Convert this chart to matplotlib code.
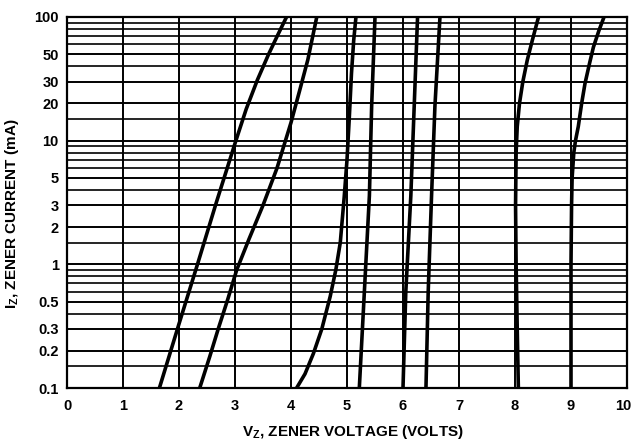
import matplotlib
matplotlib.use("Agg")
import matplotlib.pyplot as plt
import matplotlib.transforms as mtransforms
from matplotlib.ticker import FixedLocator, NullFormatter

plt.rcParams['font.family'] = ['Liberation Sans', 'DejaVu Sans']
plt.rcParams['font.weight'] = 'bold'
plt.rcParams['axes.labelweight'] = 'bold'
plt.rcParams['mathtext.fontset'] = 'custom'
plt.rcParams['mathtext.rm'] = 'Liberation Sans:bold'
plt.rcParams['mathtext.it'] = 'Liberation Sans:bold'

# zener curves: voltage (V) vs current (mA)
v_a = [1.65, 2.00, 2.33, 2.67, 3.00, 3.20, 3.40, 3.60, 3.76, 3.92]
i_a = [0.1, 0.33, 1.0, 3.2, 9.5, 18, 31, 50, 71, 100]

v_b = [2.37, 2.55, 2.70, 2.87, 3.03, 3.25, 3.50, 3.75, 4.00, 4.15, 4.30, 4.46]
i_b = [0.1, 0.18, 0.30, 0.52, 0.9, 1.6, 3.0, 6.0, 14, 25, 45, 100]

v_c = [4.10, 4.25, 4.40, 4.55, 4.70, 4.80, 4.88, 4.95, 5.00, 5.04, 5.08, 5.12, 5.16]
i_c = [0.1, 0.13, 0.19, 0.30, 0.55, 0.9, 1.5, 3.5, 7, 15, 35, 65, 100]

v_d = [5.22, 5.31, 5.40, 5.44, 5.50]
i_d = [0.1, 0.6, 3.6, 19, 100]

v_e = [6.00, 6.05, 6.14, 6.20, 6.26]
i_e = [0.1, 0.6, 3.6, 19, 100]

v_f = [6.41, 6.45, 6.51, 6.57, 6.66]
i_f = [0.1, 0.6, 3.6, 19, 100]

v_g = [8.06, 8.04, 8.02, 8.01, 8.02, 8.04, 8.08, 8.14, 8.22, 8.31, 8.42]
i_g = [0.1, 0.3, 1.0, 3.0, 8, 13, 20, 30, 45, 65, 100]

v_h = [9.00, 9.00, 9.01, 9.02, 9.05, 9.08, 9.13, 9.19, 9.25, 9.33, 9.40, 9.50, 9.59]
i_h = [0.1, 1.0, 3.0, 5.0, 8.0, 10, 13, 20, 29, 42, 57, 78, 100]

curves = [(v_a, i_a), (v_b, i_b), (v_c, i_c), (v_d, i_d),
          (v_e, i_e), (v_f, i_f), (v_g, i_g), (v_h, i_h)]

x_ticks = [0, 1, 2, 3, 4, 5, 6, 7, 8, 9, 10]
y_ticks = [0.1, 0.2, 0.3, 0.5, 1, 2, 3, 5, 10, 20, 30, 50, 100]
y_tick_labels = ['0.1', '0.2', '0.3', '0.5', '1', '2', '3', '5', '10', '20', '30', '50', '100']
y_minor = [0.15, 0.4, 0.6, 0.7, 0.8, 0.9,
           1.5, 4, 6, 7, 8, 9,
           15, 40, 60, 70, 80, 90]

fig = plt.figure(figsize=(6.33, 4.41), dpi=100)
ax = fig.add_axes([67 / 633, 53 / 441, 560 / 633, 371 / 441])

ax.set_yscale('log')
ax.set_xlim(0, 10)
ax.set_ylim(0.1, 100)

ax.set_xticks(x_ticks)
ax.set_xticklabels([str(t) for t in x_ticks])
ax.set_yticks(y_ticks)
ax.set_yticklabels(y_tick_labels)
ax.yaxis.set_minor_locator(FixedLocator(y_minor))
ax.yaxis.set_minor_formatter(NullFormatter())
ax.tick_params(which='both', length=0, labelsize=10.5)
ax.tick_params(axis='x', pad=8)
ax.tick_params(axis='y', pad=6)

# nudge the last x label so it stays inside the figure
last = ax.get_xticklabels()[-1]
last.set_transform(last.get_transform() +
                   mtransforms.ScaledTranslation(-4 / 100, 0, fig.dpi_scale_trans))

ax.grid(True, which='major', axis='both', color='black', linewidth=1.4)
ax.grid(True, which='minor', axis='y', color='black', linewidth=1.2)
ax.set_axisbelow(True)

for v, i in curves:
    ax.plot(v, i, color='black', linewidth=2.6, solid_capstyle='butt')

for s in ax.spines.values():
    s.set_linewidth(1.6)

ax.set_xlabel(r'$\mathrm{V_Z}$, ZENER VOLTAGE (VOLTS)', fontsize=11)
ax.set_ylabel(r'$\mathrm{I_Z}$, ZENER CURRENT (mA)', fontsize=11)
ax.xaxis.set_label_coords(0.51, -0.095)
ax.yaxis.set_label_coords(-0.082, 0.47)

fig.savefig('out.png', dpi=100)
